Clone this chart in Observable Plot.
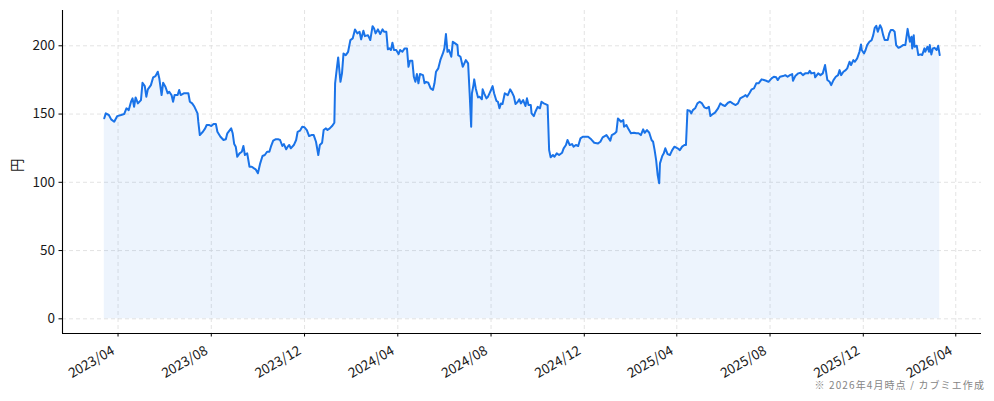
<!DOCTYPE html>
<html><head><meta charset="utf-8">
<script src="https://cdn.jsdelivr.net/npm/d3@7"></script>
<script src="https://cdn.jsdelivr.net/npm/@observablehq/plot@0.6"></script>
<style>
body{margin:0;background:#fff;}
#chart{width:994px;height:380px;}
#caption{width:994px;box-sizing:border-box;font-family:"Noto Sans CJK JP",sans-serif;font-size:10px;letter-spacing:1.1px;color:#858585;text-align:right;padding-right:9px;line-height:10px;}
</style></head><body>
<div id="chart"></div>
<div id="caption">※ 2026年4月時点 / カブミエ作成</div>
<script>
const dates = [
"2023-03-14","2023-03-16","2023-03-20","2023-03-23","2023-03-27","2023-03-31","2023-04-05","2023-04-09","2023-04-12","2023-04-15",
"2023-04-18","2023-04-20","2023-04-22","2023-04-24","2023-04-27","2023-05-01","2023-05-03","2023-05-06","2023-05-08","2023-05-10",
"2023-05-14","2023-05-17","2023-05-20","2023-05-23","2023-05-25","2023-05-28","2023-05-30","2023-06-02","2023-06-05","2023-06-07",
"2023-06-10","2023-06-12","2023-06-14","2023-06-18","2023-06-20","2023-06-22","2023-06-26","2023-06-29","2023-07-02","2023-07-04",
"2023-07-07","2023-07-10","2023-07-14","2023-07-15","2023-07-17","2023-07-21","2023-07-24","2023-07-26","2023-07-29","2023-08-01",
"2023-08-04","2023-08-07","2023-08-09","2023-08-13","2023-08-17","2023-08-20","2023-08-22","2023-08-27","2023-08-29","2023-08-31",
"2023-09-02","2023-09-04","2023-09-07","2023-09-10","2023-09-12","2023-09-14","2023-09-17","2023-09-20","2023-09-23","2023-09-26",
"2023-09-28","2023-10-01","2023-10-04","2023-10-07","2023-10-10","2023-10-13","2023-10-16","2023-10-18","2023-10-21","2023-10-24",
"2023-10-28","2023-10-30","2023-11-02","2023-11-04","2023-11-07","2023-11-09","2023-11-11","2023-11-13","2023-11-17","2023-11-20",
"2023-11-22","2023-11-25","2023-11-28","2023-12-01","2023-12-04","2023-12-07","2023-12-10","2023-12-13","2023-12-16","2023-12-19",
"2023-12-21","2023-12-24","2023-12-26","2023-12-29","2023-12-31","2024-01-03","2024-01-06","2024-01-09","2024-01-10","2024-01-12",
"2024-01-14","2024-01-17","2024-01-19","2024-01-21","2024-01-24","2024-01-27","2024-01-30","2024-02-02","2024-02-05","2024-02-08",
"2024-02-11","2024-02-13","2024-02-16","2024-02-18","2024-02-22","2024-02-25","2024-02-28","2024-03-01","2024-03-03","2024-03-06",
"2024-03-09","2024-03-12","2024-03-14","2024-03-17","2024-03-19","2024-03-21","2024-03-23","2024-03-25","2024-03-27","2024-03-30",
"2024-04-02","2024-04-04","2024-04-07","2024-04-10","2024-04-13","2024-04-15","2024-04-17","2024-04-20","2024-04-22","2024-04-24",
"2024-04-26","2024-04-28","2024-04-30","2024-05-04","2024-05-06","2024-05-08","2024-05-11","2024-05-14","2024-05-17","2024-05-19",
"2024-05-21","2024-05-24","2024-05-27","2024-05-30","2024-06-01","2024-06-03","2024-06-05","2024-06-07","2024-06-10","2024-06-12",
"2024-06-15","2024-06-18","2024-06-19","2024-06-22","2024-06-25","2024-06-29","2024-07-02","2024-07-04","2024-07-06","2024-07-07",
"2024-07-09","2024-07-10","2024-07-12","2024-07-15","2024-07-17","2024-07-20","2024-07-21","2024-07-23","2024-07-26","2024-07-28",
"2024-07-30","2024-08-01","2024-08-03","2024-08-05","2024-08-08","2024-08-10","2024-08-12","2024-08-14","2024-08-16","2024-08-19",
"2024-08-23","2024-08-26","2024-08-29","2024-08-31","2024-09-02","2024-09-05","2024-09-07","2024-09-09","2024-09-12","2024-09-15",
"2024-09-17","2024-09-19","2024-09-22","2024-09-23","2024-09-26","2024-09-28","2024-10-01","2024-10-04","2024-10-06","2024-10-09",
"2024-10-12","2024-10-14","2024-10-16","2024-10-18","2024-10-21","2024-10-23","2024-10-26","2024-10-29","2024-11-02","2024-11-04",
"2024-11-07","2024-11-09","2024-11-12","2024-11-15","2024-11-17","2024-11-20","2024-11-23","2024-11-26","2024-11-29","2024-12-06",
"2024-12-10","2024-12-14","2024-12-19","2024-12-22","2024-12-25","2024-12-30","2025-01-02","2025-01-04","2025-01-06","2025-01-10",
"2025-01-12","2025-01-14","2025-01-16","2025-01-18","2025-01-21","2025-01-22","2025-01-25","2025-01-28","2025-01-31","2025-02-04",
"2025-02-07","2025-02-10","2025-02-13","2025-02-16","2025-02-18","2025-02-21","2025-02-24","2025-02-27","2025-03-01","2025-03-03",
"2025-03-05","2025-03-07","2025-03-09","2025-03-10","2025-03-13","2025-03-15","2025-03-17","2025-03-20","2025-03-23","2025-03-26",
"2025-03-29","2025-04-02","2025-04-05","2025-04-08","2025-04-11","2025-04-13","2025-04-15","2025-04-18","2025-04-20","2025-04-22",
"2025-04-25","2025-04-28","2025-05-01","2025-05-04","2025-05-07","2025-05-10","2025-05-13","2025-05-15","2025-05-18","2025-05-21",
"2025-05-25","2025-05-28","2025-05-31","2025-06-03","2025-06-07","2025-06-10","2025-06-13","2025-06-17","2025-06-20","2025-06-23",
"2025-06-27","2025-06-30","2025-07-02","2025-07-05","2025-07-08","2025-07-11","2025-07-14","2025-07-17","2025-07-21","2025-07-24",
"2025-07-27","2025-07-30","2025-08-03","2025-08-06","2025-08-09","2025-08-11","2025-08-14","2025-08-18","2025-08-21","2025-08-24",
"2025-08-27","2025-08-30","2025-08-31","2025-09-03","2025-09-07","2025-09-10","2025-09-13","2025-09-16","2025-09-20","2025-09-22",
"2025-09-24","2025-09-28","2025-09-29","2025-10-03","2025-10-06","2025-10-09","2025-10-12","2025-10-15","2025-10-18","2025-10-20",
"2025-10-23","2025-10-26","2025-10-29","2025-10-31","2025-11-02","2025-11-05","2025-11-08","2025-11-10","2025-11-13","2025-11-15",
"2025-11-18","2025-11-20","2025-11-23","2025-11-26","2025-11-28","2025-11-29","2025-12-02","2025-12-04","2025-12-06","2025-12-09",
"2025-12-12","2025-12-14","2025-12-16","2025-12-18","2025-12-20","2025-12-23","2025-12-25","2025-12-27","2025-12-29","2026-01-02",
"2026-01-04","2026-01-06","2026-01-09","2026-01-11","2026-01-13","2026-01-16","2026-01-19","2026-01-22","2026-01-25","2026-01-28",
"2026-01-29","2026-01-31","2026-02-02","2026-02-03","2026-02-05","2026-02-06","2026-02-09","2026-02-11","2026-02-14","2026-02-16",
"2026-02-19","2026-02-20","2026-02-23","2026-02-25","2026-02-26","2026-02-28","2026-03-02","2026-03-04","2026-03-07","2026-03-09",
"2026-03-11"
];
const prices = [
146.9,150.5,149.3,146.1,144.4,148.5,149.3,150,154.2,152.9,
159,161.5,155.3,162.2,157.8,160.2,172.9,170.5,162.7,168.1,
171.2,176.9,177.8,181,176.1,163.9,172.9,170,165.2,166.3,
163.9,159,163.9,163.9,167.6,163.9,165.2,165.2,165.2,159,
157.8,155.3,150.5,144.4,134.6,137,139.5,142,142,141.2,
142.7,142.7,137,133.4,131,131.5,135.9,139.5,135.9,128,
126.1,118.7,121.2,122.4,126.6,120,121.2,111.4,111.4,110.2,
109.5,106.6,113.9,119.3,120,122.4,122.4,126.1,130.5,131.5,
131.5,131,126.6,128,124.2,126.1,127.3,124.9,127.3,131,
137,137.8,140.7,140.3,138.3,133.9,134.6,134.6,129.7,120,
127.3,129,138.3,139.5,138.3,139.5,141.2,143.6,172.5,182.2,
191.5,173.6,179.8,194.4,193.2,195.6,204.2,205.4,212,209.1,
210.3,204.7,211,207.1,207.8,204.2,214.4,212.7,209.1,212,
208.6,212,210.3,210.3,197.4,198.1,196.9,202.2,196.9,196.9,
193.9,196.9,195.6,198.1,198.1,184.6,189,189,177.3,173.6,
179.3,172.5,179.3,178.5,172.5,173.6,172.9,168.8,167.6,172.5,
181,183.5,190.1,194.4,198.1,208.6,195.6,196.9,192,203,
201.8,200.5,193.2,192,184.6,189.5,187.1,165.2,140.7,165.2,
171.2,175.4,168.8,162.2,162.7,160.8,168.1,165.2,161.5,162.7,
165.2,167.6,170.5,165.2,159.7,159,154.2,157.8,157.3,165.2,
163.9,168.1,165.2,162.7,157.3,159,160.8,157.8,160.2,155.9,
161.5,156.6,156.6,150.5,148.5,151.7,155.3,154.2,159,157.8,
157.1,156.6,123.6,118.3,120,118.7,121.2,120,121.7,124.9,
127.3,131,127.3,128,126.1,127.3,126.6,132.2,133.4,133.4,
131.5,129,128.5,129.7,132.9,134.6,132.2,130.5,134.6,135.9,
137,146.8,145.6,144.4,145.6,140.7,142,138.8,135.9,136.3,
135.9,135.9,134.6,138.8,136.3,138.3,136.3,131,129.7,123.6,
116.3,105.3,99.3,113.9,119.3,121.2,124.9,120.7,120,123.6,
126.1,124.9,123.6,126.1,127.3,127.3,152.9,152.4,150.5,152.9,
154.2,157.8,159,157.8,154.9,154.2,155.3,148.5,150,151,
154.2,157.8,156.6,155.9,158.3,159,157.8,156.6,157.8,161.5,
162.7,163.9,162.7,165.2,168.1,168.8,172.5,172.5,175.4,174.9,
174.4,173.6,176.1,177.3,176.9,174.9,177.3,177.8,178.5,177.3,
178.5,179.3,174.4,177.8,179.8,180.2,178.5,179.8,179.8,181.7,
179.8,180.2,176.9,179.8,178.5,179.8,185.9,174.9,173.6,171.2,
174.9,177.3,178.5,182.2,178.5,181,182.2,183.5,188.3,185.9,
189.5,188.3,190.8,195.6,201,196.9,194.4,196.9,200.5,203,
204.2,207.8,213.2,214.6,210.3,215.1,212.7,207.8,204.2,204.2,
209.1,211.5,211.5,210.3,200.5,198.5,199.3,200.5,200.5,212.4,
209.1,203,206.6,198.1,207.8,199.3,200,193.2,193.7,193.2,
198.1,195.6,199.3,195.6,200.5,193.7,198.1,198.5,196.9,200,
193.2
];
const yTicks = [0, 50, 100, 150, 200];
const xTicks = ["2023-04-01","2023-08-01","2023-12-01","2024-04-01","2024-08-01","2024-12-01","2025-04-01","2025-08-01","2025-12-01","2026-04-01"];
const yLabel = "円";

const data = dates.map((d, i) => ({date: new Date(d + "T00:00:00Z"), price: prices[i]}));
const t0 = data[0].date, t1 = data[data.length - 1].date;
const padT = (t1 - t0) * 0.05;
const pMax = d3.max(prices), padY = pMax * 0.05;
const xDomain = [new Date(+t0 - padT), new Date(+t1 + padT)];
const yDomain = [-padY, pMax + padY];
const tickDates = xTicks.map(d => new Date(d + "T00:00:00Z"));
const fmt = d3.utcFormat("%Y/%m");
const blue = "#1a73e8";
const gridStyle = {stroke: "#dcdcdc", strokeOpacity: 1, strokeDasharray: "4,3", strokeWidth: 0.8};

const plot = Plot.plot({
  width: 994, height: 380,
  marginLeft: 62, marginRight: 13, marginTop: 10, marginBottom: 47,
  style: {fontFamily: '"Noto Sans CJK JP", sans-serif', fontSize: "13.5px", color: "#1a1a1a", background: "#fff", overflow: "visible"},
  x: {type: "utc", domain: xDomain},
  y: {domain: yDomain},
  marks: [
    Plot.gridY(yTicks, gridStyle),
    Plot.gridX(tickDates, gridStyle),
    Plot.areaY(data, {x: "date", y: "price", fill: blue, fillOpacity: 0.08}),
    Plot.lineY(data, {x: "date", y: "price", stroke: blue, strokeWidth: 2}),
    Plot.ruleX([xDomain[0]], {stroke: "#000", strokeWidth: 1.1}),
    Plot.ruleY([yDomain[0]], {stroke: "#000", strokeWidth: 1.1}),
    Plot.axisY(yTicks, {tickSize: 3.5, tickPadding: 4, label: null, stroke: "#000", fontSize: 13.5}),
    Plot.axisX(tickDates, {tickSize: 3.5, tickFormat: () => "", label: null, stroke: "#000"}),
    Plot.text(tickDates, {x: d => d, text: d => fmt(d), frameAnchor: "bottom", dy: 16, dx: -4.8, rotate: -30, textAnchor: "end", lineAnchor: "middle", fill: "#1a1a1a", fontSize: 13.5}),
    Plot.text([yLabel], {frameAnchor: "left", dx: -45, rotate: -90, text: d => d, fill: "#1a1a1a", fontSize: 13.5})
  ]
});
document.getElementById("chart").appendChild(plot);
</script>
</body></html>
